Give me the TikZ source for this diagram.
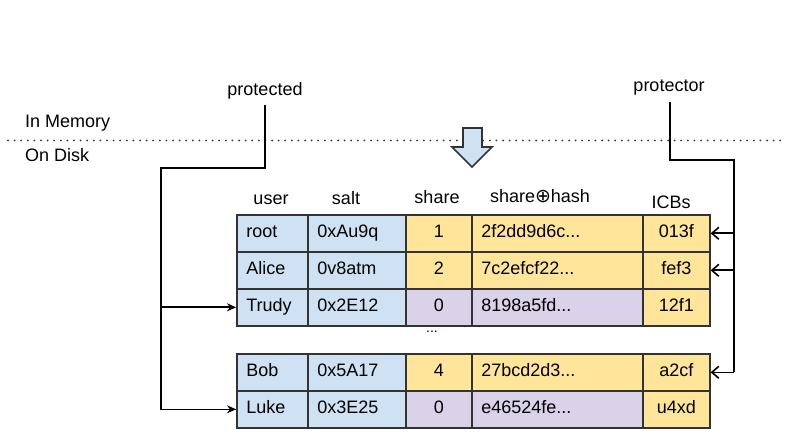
\documentclass[tikz,border=0pt]{standalone}
\usepackage{fontspec}
\setmainfont{Liberation Sans}
\newfontfamily\symfont{DejaVu Sans}
\usetikzlibrary{arrows.meta}
\definecolor{cblue}{HTML}{CFE2F3}
\definecolor{cyellow}{HTML}{FFE599}
\definecolor{cpurple}{HTML}{D9D2E9}
\definecolor{cborder}{HTML}{333333}
\tikzset{
  cell/.style={draw=cborder, line width=1.6bp, minimum height=37bp, inner xsep=9.5bp, inner ysep=0pt,
    anchor=north west, text height=13bp, text depth=4bp, font=\fontsize{18bp}{21bp}\selectfont},
  colU/.style={cell, fill=cblue, text width=52bp, align=left},
  colS/.style={cell, fill=cblue, text width=79bp, align=left},
  colSh/.style={cell, text width=47bp, align=center},
  colH/.style={cell, text width=152bp, align=left},
  colI/.style={cell, fill=cyellow, text width=48bp, align=center},
  lbl/.style={inner sep=0pt, font=\fontsize{18bp}{21bp}\selectfont},
  conn/.style={line width=1.6bp, black},
  leftarr/.style={conn, -{Stealth[length=9bp, width=8bp]}},
  rightarr/.style={conn, -{Straight Barb[length=7bp, width=12bp, line width=1.6bp]}}
}
\begin{document}
\begin{tikzpicture}[x=1bp, y=-1bp]
\useasboundingbox (0,0) rectangle (786,445);

% dotted separator
\draw[line width=2bp, line cap=round, dash pattern=on 0bp off 6.6bp, black!80] (8,140.5) -- (786,140.5);
\node[lbl, anchor=west] (mem) at (25,123) {In Memory};
\node[lbl, anchor=west] (disk) at (25,155) {On Disk};

% block arrow
\draw[fill=cblue, draw=cborder, line width=1.6bp, line join=miter]
  (463,128) -- (482,128) -- (482,147) -- (492,147) -- (472,167) -- (452,147) -- (463,147) -- cycle;

% headers
\node[lbl] (huser) at (271,200) {user};
\node[lbl] (hsalt) at (346,198) {salt};
\node[lbl] (hshare) at (437,197) {share};
\node[lbl] (hhash) at (540,196) {share{\symfont\fontsize{19bp}{21bp}\selectfont ⊕}hash};
\node[lbl] (hicb) at (671,202) {ICBs};

% top group
\node[colU] (u1) at (236,214) {root};
\node[colS] (s1) at (307,214) {0xAu9q};
\node[colSh, fill=cyellow] (sh1) at (405,214) {1};
\node[colH, fill=cyellow] (h1) at (471,214) {2f2dd9d6c...};
\node[colI] (i1) at (642,214) {013f};

\node[colU] (u2) at (236,251) {Alice};
\node[colS] (s2) at (307,251) {0v8atm};
\node[colSh, fill=cyellow] (sh2) at (405,251) {2};
\node[colH, fill=cyellow] (h2) at (471,251) {7c2efcf22...};
\node[colI] (i2) at (642,251) {fef3};

\node[colU] (u3) at (236,288) {Trudy};
\node[colS] (s3) at (307,288) {0x2E12};
\node[colSh, fill=cpurple] (sh3) at (405,288) {0};
\node[colH, fill=cpurple] (h3) at (471,288) {8198a5fd...};
\node[colI] (i3) at (642,288) {12f1};

\node[inner sep=0pt, font=\fontsize{14bp}{16bp}\selectfont] (dots) at (432,332) {...};

% bottom group
\node[colU] (u4) at (236,353) {Bob};
\node[colS] (s4) at (307,353) {0x5A17};
\node[colSh, fill=cyellow] (sh4) at (405,353) {4};
\node[colH, fill=cyellow] (h4) at (471,353) {27bcd2d3...};
\node[colI] (i4) at (642,353) {a2cf};

\node[colU] (u5) at (236,390) {Luke};
\node[colS] (s5) at (307,390) {0x3E25};
\node[colSh, fill=cpurple] (sh5) at (405,390) {0};
\node[colH, fill=cpurple] (h5) at (471,390) {e46524fe...};
\node[colI] (i5) at (642,390) {u4xd};

% protected
\node[lbl] (protected) at (265,91) {protected};
\coordinate (pa) at (265,168);
\coordinate (pb) at (161,168);
\draw[conn] ([yshift=-5bp]protected.south) -- (pa) -- (pb) -- (pb |- u5.west) -- (u5.west);
\draw[leftarr] (pb |- u5.west) -- (u5.west);
\draw[leftarr] (pb |- u3.west) -- (u3.west);

% protector
\node[lbl] (protector) at (669,88) {protector};
\coordinate (qa) at (670,160);
\coordinate (qb) at (734,160);
\draw[line width=2.6bp, line join=miter] ([yshift=-6bp]protector.south -| qa) -- (qa) -- (qb) -- ([yshift=-20bp]qb);
\draw[conn] ([yshift=-20bp]qb) -- (qb |- i4.east);
\draw[rightarr] (qb |- i1.east) -- (i1.east);
\draw[rightarr] (qb |- i2.east) -- (i2.east);
\draw[rightarr] (qb |- i4.east) -- (i4.east);
\end{tikzpicture}
\end{document}
